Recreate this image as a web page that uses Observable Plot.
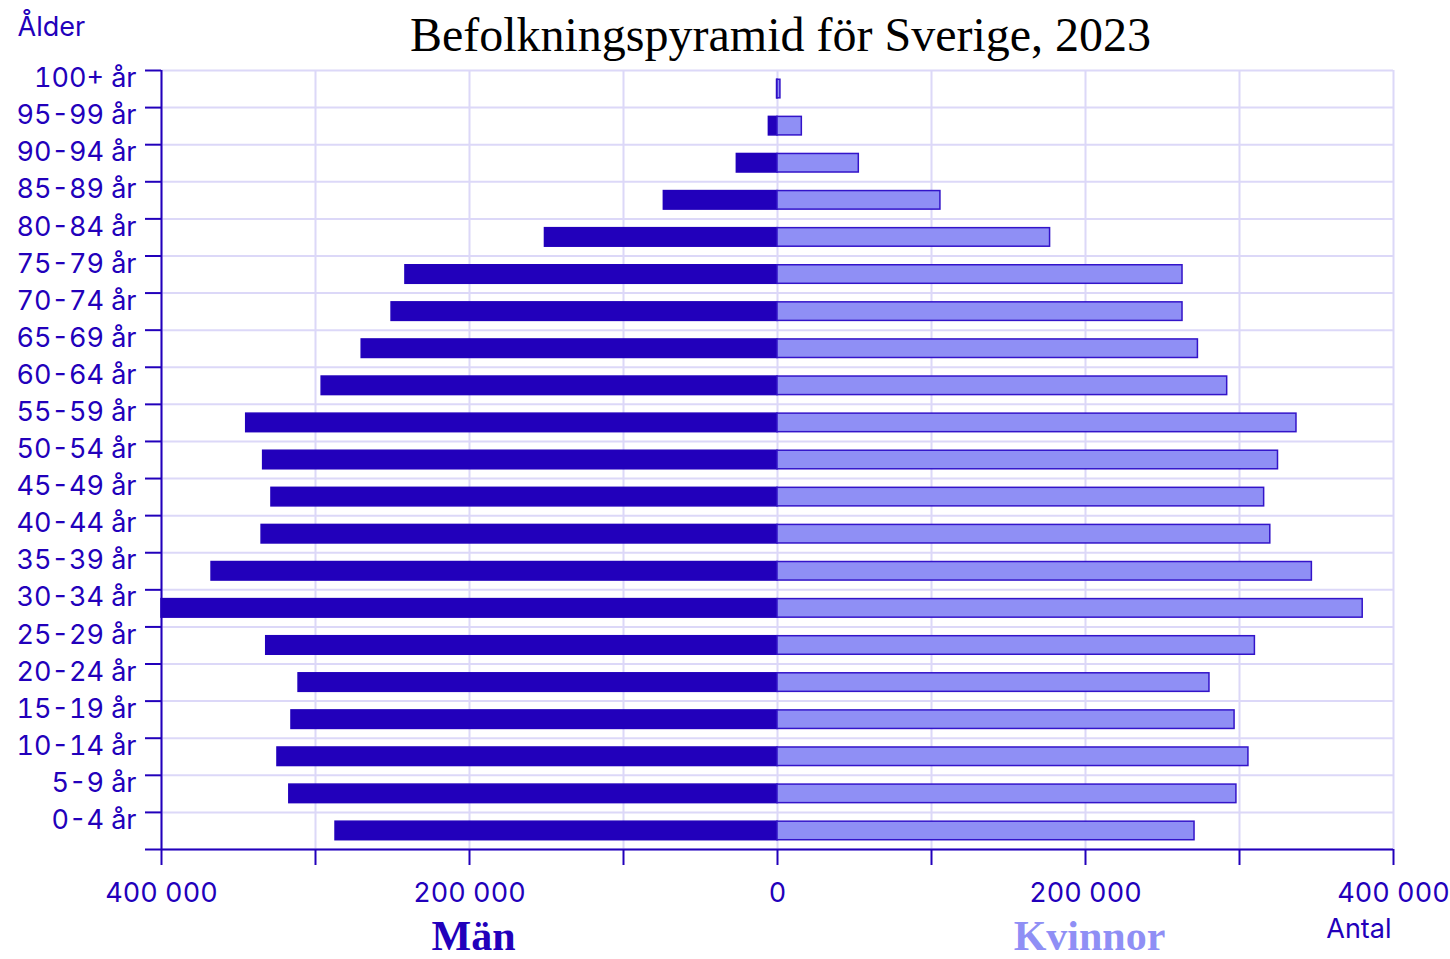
<!DOCTYPE html>
<html><head><meta charset="utf-8">
<script src="https://cdn.jsdelivr.net/npm/d3@7"></script>
<script src="https://cdn.jsdelivr.net/npm/@observablehq/plot@0.6"></script>
<style>body{margin:0;background:#fff}</style>
</head><body><div id="chart"></div>
<script>
const title = "Befolkningspyramid för Sverige, 2023";
const ages = ["0-4 år","5-9 år","10-14 år","15-19 år","20-24 år","25-29 år","30-34 år","35-39 år","40-44 år","45-49 år","50-54 år","55-59 år","60-64 år","65-69 år","70-74 år","75-79 år","80-84 år","85-89 år","90-94 år","95-99 år","100+ år"];
const men   = [287000,317000,324700,315600,311000,332000,400000,367500,335000,328600,334000,345000,296000,270000,250600,241600,151000,73800,26400,5600,300];
const women = [270800,298000,305800,296800,280500,310000,380000,347000,320000,316000,325000,337000,292000,273000,263000,263000,177000,105800,52800,15800,1900];
const sexes = ["Män","Kvinnor"];
const xTicks = [-400000,-300000,-200000,-100000,0,100000,200000,300000,400000];
const xLabels = [-400000,-200000,0,200000,400000];

const dark = "#2200bb", light = "#8f8ff5", barStroke = "#3314c9", grid = "#dcd8f8";
const rows = ages.flatMap((a, i) => [
  {age: a, i, sex: "Män", value: -men[i]},
  {age: a, i, sex: "Kvinnor", value: women[i]}
]);
const fmt = d3.formatLocale({decimal: ",", thousands: " ", grouping: [3], currency: ["", " kr"]}).format(",d");
const serif = "'Times New Roman', 'Liberation Serif', serif";

const chart = Plot.plot({
  width: 1450, height: 959,
  marginLeft: 161, marginRight: 57, marginTop: 70, marginBottom: 110,
  style: {fontFamily: "Inter, sans-serif", fontSize: "27px", color: dark, background: "#fff"},
  x: {domain: [-400000, 400000]},
  y: {domain: [0, ages.length]},
  marks: [
    Plot.ruleX(xTicks, {stroke: grid, strokeWidth: 2}),
    Plot.ruleY(d3.range(ages.length + 1), {stroke: grid, strokeWidth: 2}),
    Plot.rectX(rows, {
      x1: d => 0, x2: "value",
      y1: d => d.i + 0.25, y2: d => d.i + 0.75,
      fill: d => d.sex === "Män" ? dark : light,
      stroke: d => d.sex === "Män" ? dark : barStroke,
      strokeWidth: 1.5
    }),
    Plot.ruleX([-400000], {stroke: dark, strokeWidth: 2}),
    Plot.ruleY([0], {stroke: dark, strokeWidth: 2}),
    Plot.axisX({ticks: xTicks, tickSize: 16, tickFormat: () => "", stroke: dark, strokeWidth: 2, label: null}),
    Plot.axisX({ticks: xLabels, tickSize: 0, tickPadding: 33, tickFormat: d => fmt(Math.abs(d)), label: null}),
    Plot.axisY({ticks: d3.range(0, ages.length + 1), tickSize: 16, tickFormat: () => "", stroke: dark, strokeWidth: 2, label: null}),
    Plot.axisY({ticks: d3.range(1, ages.length + 1), tickSize: 0, tickPadding: 25, dy: 8, tickFormat: v => ages[v - 1], label: null}),
    Plot.text([title], {text: d => d, frameAnchor: "top", lineAnchor: "bottom", dx: 3, dy: -20, fontFamily: serif, fontSize: 48, fill: "black"}),
    Plot.text(["Ålder"], {text: d => d, frameAnchor: "top-left", textAnchor: "start", lineAnchor: "bottom", dx: -144, dy: -35, fontSize: 27, fill: dark}),
    Plot.text(["Antal"], {text: d => d, frameAnchor: "bottom-right", textAnchor: "end", lineAnchor: "bottom", dx: -2, dy: 88, fontSize: 27, fill: dark}),
    Plot.text(sexes, {text: d => d, x: d => d === "Män" ? -200000 : 200000, frameAnchor: "bottom", lineAnchor: "bottom", dx: 4, dy: 100, fontFamily: serif, fontWeight: "bold", fontSize: 42, fill: d => d === "Män" ? dark : light})
  ]
});
document.getElementById("chart").append(chart);
</script>
</body></html>
